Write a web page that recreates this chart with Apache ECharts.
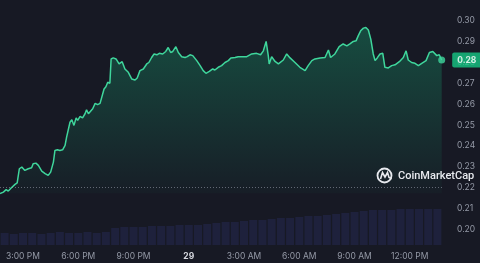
<!DOCTYPE html>
<html><head><meta charset="utf-8">
<script src="https://cdn.jsdelivr.net/npm/echarts@6/dist/echarts.min.js"></script>
<style>html,body{margin:0;padding:0;background:#171924;}#c{width:480px;height:263px;}</style>
</head><body><div id="c"></div>
<script>
// minutes since 13:45 (28th)
const minutes = [0,11,20,27,38,49,56,63,71,81,92,103,108,117,125,136,147,157,165,174,179,187,195,204,212,217,228,234,241,248,253,261,269,277,282,288,293,302,310,318,326,331,339,345,351,358,362,369,378,388,398,407,418,429,440,447,456,467,478,485,494,502,511,519,530,540,548,556,563,573,581,592,603,610,619,628,641,652,662,671,682,693,700,711,722,733,744,752,766,776,782,804,820,836,849,858,867,874,877,885,896,907,923,934,945,961,977,994,1004,1016,1026,1043,1059,1070,1077,1091,1105,1118,1130,1140,1151,1160,1167,1175,1184,1192,1200,1208,1216,1222,1229,1238,1247,1254,1265,1276,1287,1301,1314,1323,1330,1341,1352,1363,1374,1388,1399,1410,1423,1431,1439];
const prices = [0.2171,0.2178,0.2190,0.2183,0.2200,0.2215,0.2222,0.2290,0.2298,0.2282,0.2290,0.2295,0.2314,0.2317,0.2306,0.2279,0.2267,0.2258,0.2274,0.2322,0.2378,0.2381,0.2378,0.2381,0.2402,0.2442,0.2513,0.2525,0.2498,0.2534,0.2522,0.2541,0.2534,0.2554,0.2573,0.2554,0.2561,0.2578,0.2604,0.2598,0.2604,0.2609,0.2673,0.2684,0.2705,0.2700,0.2817,0.2822,0.2817,0.2793,0.2804,0.2769,0.2753,0.2721,0.2716,0.2726,0.2761,0.2769,0.2793,0.2800,0.2824,0.2841,0.2837,0.2844,0.2841,0.2853,0.2872,0.2848,0.2853,0.2876,0.2848,0.2828,0.2824,0.2828,0.2837,0.2833,0.2809,0.2785,0.2761,0.2748,0.2757,0.2769,0.2764,0.2777,0.2785,0.2800,0.2809,0.2822,0.2824,0.2828,0.2822,0.2828,0.2841,0.2844,0.2837,0.2856,0.2901,0.2833,0.2793,0.2828,0.2805,0.2793,0.2812,0.2841,0.2822,0.2800,0.2777,0.2761,0.2785,0.2809,0.2817,0.2822,0.2824,0.2860,0.2824,0.2841,0.2876,0.2889,0.2880,0.2889,0.2901,0.2904,0.2928,0.2952,0.2965,0.2968,0.2956,0.2912,0.2841,0.2809,0.2822,0.2841,0.2844,0.2777,0.2774,0.2785,0.2789,0.2804,0.2824,0.2856,0.2812,0.2800,0.2796,0.2785,0.2796,0.2809,0.2848,0.2853,0.2833,0.2837,0.2812];
const openPrice = 0.2172;
// volume per 30 minutes (arbitrary units)
const volumes = [12,11,12,12,11,12,13,12,12,13,12,13,17,18,18,18,19,19,19,20,20,20,21,22,23,23,24,25,25,26,27,27,28,29,29,30,31,32,33,34,35,35,35,36,36,36,36,36];
const volMinutes = volumes.map((v,i)=>15+30*i);
const tickMinutes = [75,255,435,615,795,975,1155,1335];
const tickLabels = ['3:00 PM','6:00 PM','9:00 PM','29','3:00 AM','6:00 AM','9:00 AM','12:00 PM'];
const yTicks = [0.20,0.21,0.22,0.23,0.24,0.25,0.26,0.27,0.28,0.29,0.30];

const chart = echarts.init(document.getElementById('c'), null, {renderer:'canvas'});
const lineData = minutes.map((m,i)=>[m,prices[i]]);
const last = lineData[lineData.length-1];
const FONT = 'Inter, Roboto, sans-serif';
chart.setOption({
  backgroundColor:'#171924',
  animation:false,
  grid:[
    {left:0,right:38,top:-1,bottom:13},
    {left:0,right:38,top:195,bottom:18}
  ],
  xAxis:[
    {type:'value',gridIndex:0,min:0,max:1440,show:false},
    {type:'value',gridIndex:1,min:0,max:1440,
      axisLine:{show:false},axisTick:{show:false},splitLine:{show:false},
      axisLabel:{customValues:tickMinutes,margin:7,fontSize:8.5,fontFamily:FONT,color:'#9499a6',
        formatter:(v)=>{const i=tickMinutes.indexOf(v);const t=tickLabels[i];return t==='29'?'{b|29}':t;},
        rich:{b:{fontWeight:'bold',color:'#d6d8df',fontSize:8.5,fontFamily:FONT}}}}
  ],
  yAxis:[
    {type:'value',gridIndex:0,position:'right',min:0.19,max:0.31,
      axisLine:{show:false},axisTick:{show:false},splitLine:{show:false},
      axisLabel:{customValues:yTicks,margin:15,fontSize:8.5,fontFamily:FONT,color:'#9499a6',align:'left',
        formatter:(v)=>v.toFixed(2)}},
    {type:'value',gridIndex:1,min:0,max:50,show:false}
  ],
  graphic:[
    {type:'circle',shape:{cx:384.5,cy:175.5,r:7},style:{fill:'none',stroke:'#e8eaef',lineWidth:1.8},z:10},
    {type:'polyline',shape:{points:[[380.5,179],[382.5,172.5],[385,177],[387.5,172.5],[389,177.5],[391.5,178.5]]},style:{fill:'none',stroke:'#e8eaef',lineWidth:1.6},z:10},
    {type:'text',x:398,y:176,style:{text:'CoinMarketCap',fill:'#e8eaef',font:'500 11px Roboto, sans-serif',textVerticalAlign:'middle'},z:10}
  ],
  series:[
    {type:'bar',xAxisIndex:1,yAxisIndex:1,data:volMinutes.map((m,i)=>[m,volumes[i]]),barWidth:8,
      itemStyle:{color:'#1e213c'},silent:true},
    {type:'line',xAxisIndex:0,yAxisIndex:0,data:lineData,showSymbol:false,
      lineStyle:{color:'#3fd69c',width:1.5},
      areaStyle:{origin:openPrice,color:new echarts.graphic.LinearGradient(0,0,0,1,[
        {offset:0,color:'rgba(22,199,132,0.42)'},{offset:1,color:'rgba(22,199,132,0.04)'}])},
      markLine:{silent:true,symbol:['none','none'],label:{show:false},data:[
        {yAxis:openPrice,lineStyle:{type:[1,2],color:'rgba(160,165,180,0.55)',width:1}}
      ]}},
    {type:'scatter',xAxisIndex:0,yAxisIndex:0,data:[last],symbolSize:7,itemStyle:{color:'#3fd69c'},z:5,
      label:{show:true,position:'right',distance:7,formatter:(p)=>p.value[1].toFixed(2),
        backgroundColor:'#16c784',color:'#ffffff',fontSize:8.5,fontWeight:'bold',fontFamily:FONT,padding:[3,5],borderRadius:2}}
  ]
});
</script></body></html>
